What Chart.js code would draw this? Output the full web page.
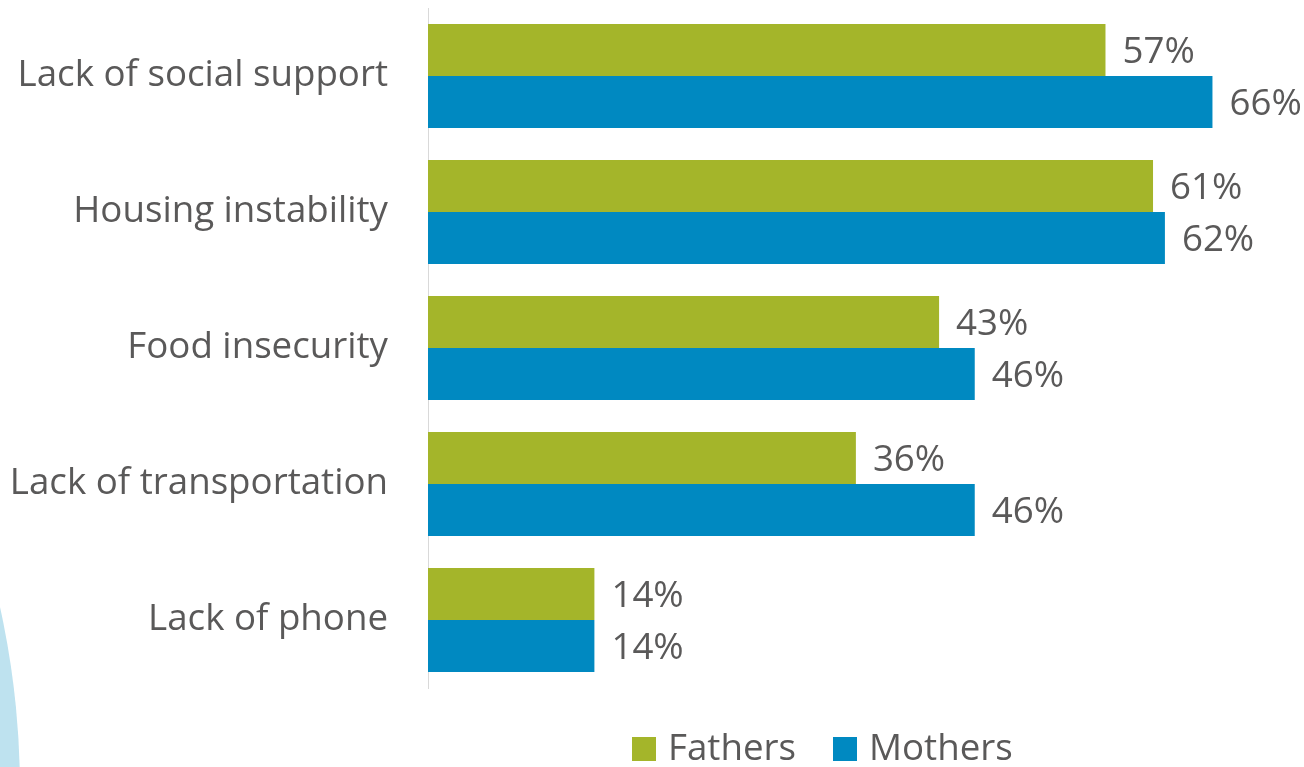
<!DOCTYPE html>
<html>
<head>
<meta charset="utf-8">
<script src="https://cdn.jsdelivr.net/npm/chart.js@4.4.1/dist/chart.umd.min.js"></script>
<style>
html,body{margin:0;padding:0;background:#fff;}
#wrap{width:1304px;height:767px;position:relative;}
</style>
</head>
<body>
<div id="wrap"><canvas id="c" width="1304" height="767"></canvas></div>
<script>
const categories = ["Lack of social support","Housing instability","Food insecurity","Lack of transportation","Lack of phone"];
const fathers = [57, 61, 43, 36, 14];
const mothers = [66, 62, 46, 46, 14];
const seriesNames = ["Fathers","Mothers"];
const seriesColors = ["#A4B52A","#0089C1"];

const FONT = "'Open Sans', sans-serif";
const FS = 36.7;
const TEXT = "#5A5959";

const decoPlugin = {
  id: 'deco',
  beforeDraw(chart){
    const ctx = chart.ctx;
    ctx.save();
    ctx.fillStyle = '#BEE2EF';
    const R = 847, cx = 20 - R, cy = 790;
    ctx.beginPath();
    ctx.arc(cx, cy, R, 0, Math.PI*2);
    ctx.fill();
    ctx.restore();
  }
};

const labelPlugin = {
  id: 'vlabels',
  afterDatasetsDraw(chart){
    const ctx = chart.ctx;
    ctx.save();
    ctx.font = FS + "px " + FONT;
    ctx.fillStyle = TEXT;
    ctx.textAlign = 'left';
    ctx.textBaseline = 'middle';
    chart.data.datasets.forEach((ds, di) => {
      const meta = chart.getDatasetMeta(di);
      meta.data.forEach((bar, i) => {
        ctx.fillText(ds.data[i] + '%', bar.x + 17, bar.y + 3);
      });
    });
    ctx.restore();
  }
};

const legendPlugin = {
  id: 'customLegend',
  afterDraw(chart){
    const ctx = chart.ctx;
    ctx.save();
    ctx.font = FS + "px " + FONT;
    ctx.textBaseline = 'middle';
    ctx.textAlign = 'left';
    const y = 749;
    const starts = [632, 833];
    chart.data.datasets.forEach((ds, di) => {
      const x = starts[di];
      ctx.fillStyle = ds.backgroundColor;
      ctx.fillRect(x, y - 12, 24, 24);
      ctx.fillStyle = TEXT;
      ctx.fillText(ds.label, x + 36, y + 1);
    });
    ctx.restore();
  }
};

new Chart(document.getElementById('c'), {
  type: 'bar',
  data: {
    labels: categories,
    datasets: [
      { label: seriesNames[0], data: fathers, backgroundColor: seriesColors[0], categoryPercentage: 0.765, barPercentage: 1.0 },
      { label: seriesNames[1], data: mothers, backgroundColor: seriesColors[1], categoryPercentage: 0.765, barPercentage: 1.0 }
    ]
  },
  options: {
    indexAxis: 'y',
    responsive: false,
    animation: false,
    devicePixelRatio: 1,
    layout: { padding: { top: 8, bottom: 79, right: 44, left: 0 } },
    plugins: { legend: { display: false }, tooltip: { enabled: false } },
    scales: {
      x: { display: false, min: 0, max: 70 },
      y: {
        afterFit(scale){ scale.width = 428; scale.paddingTop = 0; scale.paddingBottom = 0; },
        grid: { display: false, drawTicks: false },
        border: { display: true, color: '#D9D9D9', width: 1 },
        ticks: { color: TEXT, padding: 40, font: { family: FONT, size: FS } }
      }
    }
  },
  plugins: [decoPlugin, labelPlugin, legendPlugin]
});
</script>
</body>
</html>
